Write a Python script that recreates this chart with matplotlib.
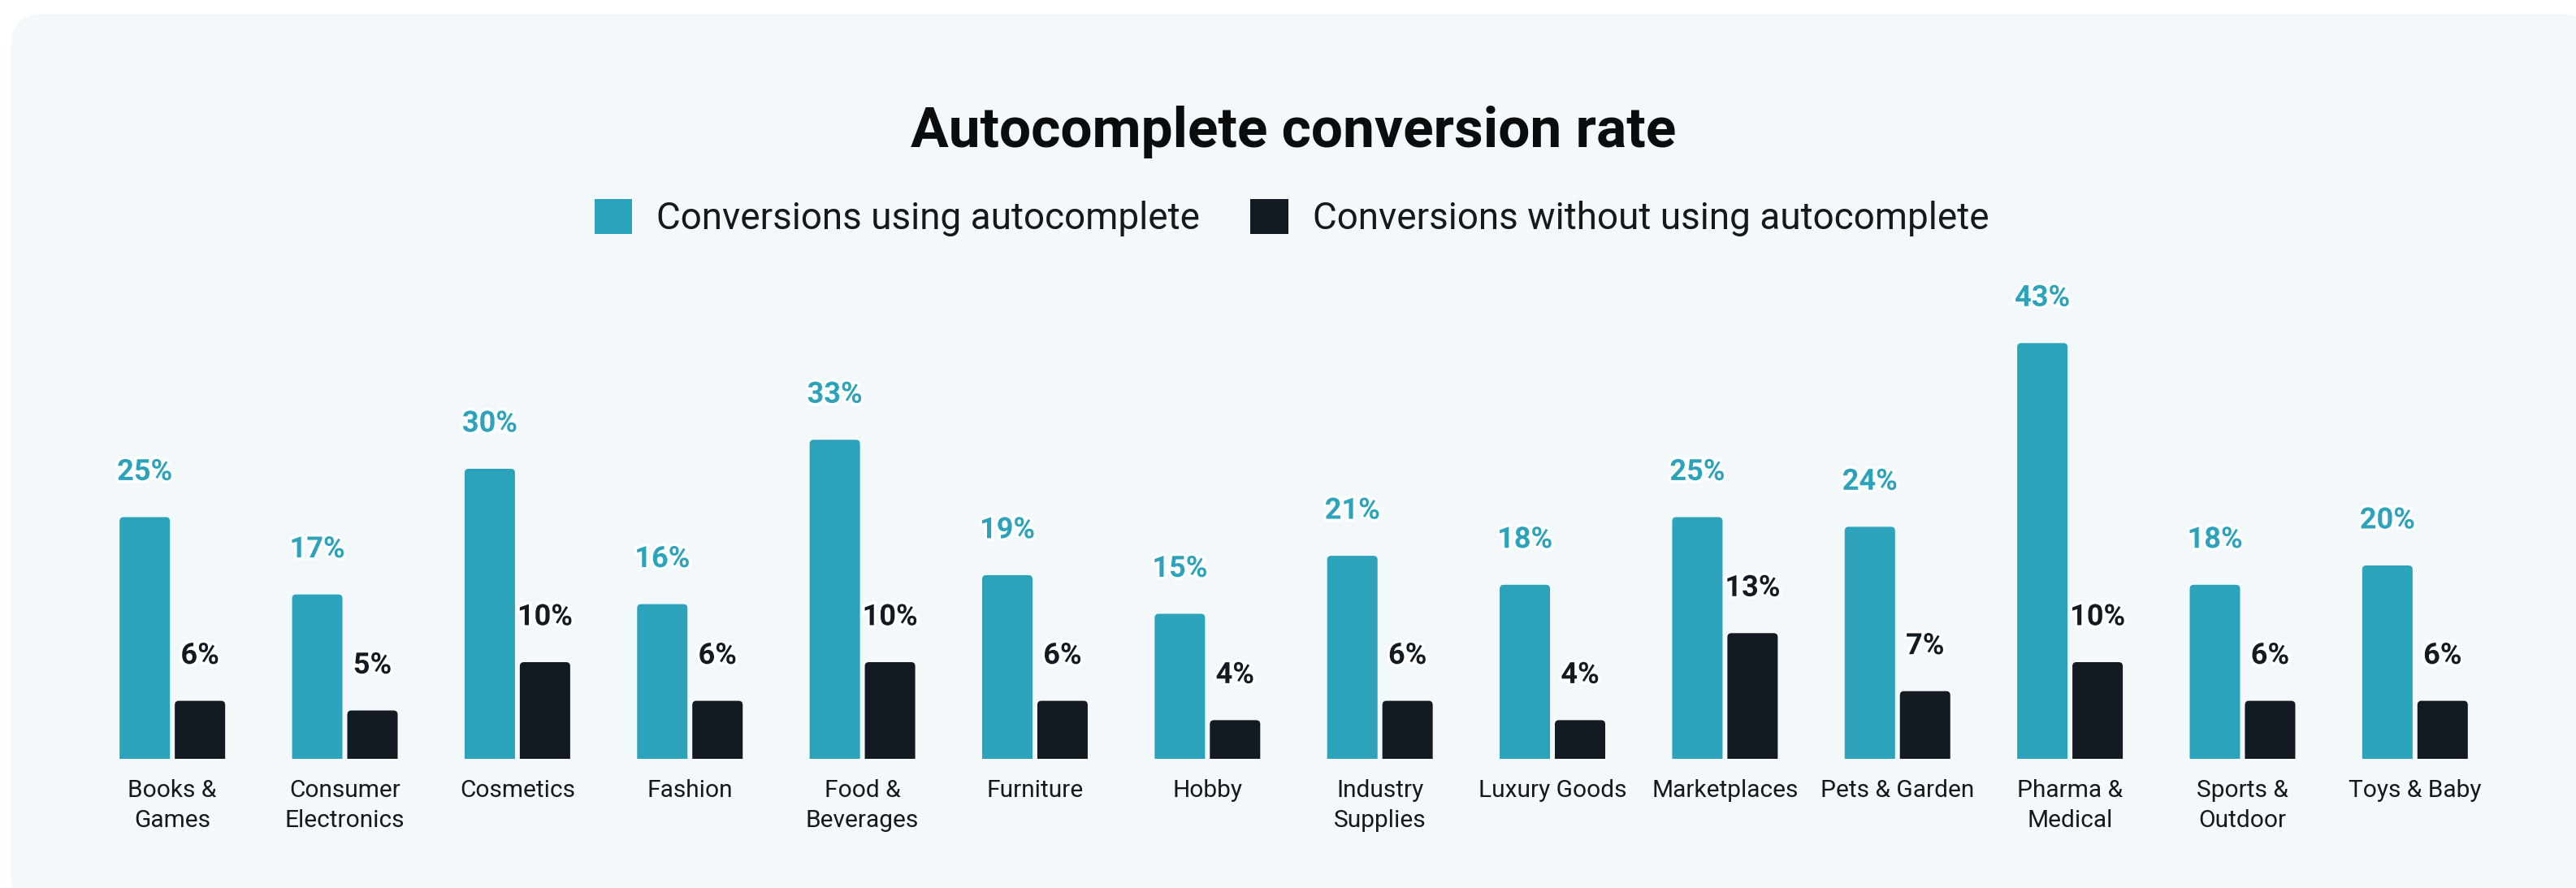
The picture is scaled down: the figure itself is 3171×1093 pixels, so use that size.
import matplotlib
matplotlib.use("Agg")
import matplotlib.pyplot as plt
from matplotlib.patches import FancyBboxPatch
from matplotlib.transforms import IdentityTransform
import matplotlib.patheffects as pe
import numpy as np

# ---------------- data ----------------
categories = ["Books &\nGames", "Consumer\nElectronics", "Cosmetics", "Fashion",
              "Food &\nBeverages", "Furniture", "Hobby", "Industry\nSupplies",
              "Luxury Goods", "Marketplaces", "Pets & Garden", "Pharma &\nMedical",
              "Sports &\nOutdoor", "Toys & Baby"]
with_autocomplete = [25, 17, 30, 16, 33, 19, 15, 21, 18, 25, 24, 43, 18, 20]
without_autocomplete = [6, 5, 10, 6, 10, 6, 4, 6, 4, 13, 7, 10, 6, 6]
series_names = ["Conversions using autocomplete",
                "Conversions without using autocomplete"]
title = "Autocomplete conversion rate"

# ---------------- style ----------------
TEAL = "#2CA3BA"
DARK = "#131A22"
BG = "#F3F8FB"
TEXT = "#15191F"
plt.rcParams['font.family'] = ['Roboto', 'DejaVu Sans']

W, H = 3171, 1093
fig = plt.figure(figsize=(W / 100, H / 100), dpi=100)
fig.patch.set_facecolor("white")

# rounded background panel (pixel coordinates)
panel = FancyBboxPatch((14, -30), W + 20 - 14, H + 13,
                       boxstyle="round,pad=0,rounding_size=40",
                       transform=IdentityTransform(), facecolor=BG,
                       edgecolor="none", zorder=-10)
fig.add_artist(panel)

ax_left, ax_right = 106, 3079
ax_bottom_px, ax_top_px = 934, 339
ax = fig.add_axes([ax_left / W, (H - ax_bottom_px) / H,
                   (ax_right - ax_left) / W, (ax_bottom_px - ax_top_px) / H])
ax.patch.set_alpha(0)

n = len(categories)
x = np.arange(n)
bw = 0.292
off = 0.16
ymax = 50
ax.set_xlim(-0.5, n - 0.5)
ax.set_ylim(0, ymax)

b1 = ax.bar(x - off, with_autocomplete, bw, color=TEAL, label=series_names[0])
b2 = ax.bar(x + off, without_autocomplete, bw, color=DARK, label=series_names[1])

# rounded top corners
px_per_x = (ax_right - ax_left) / n
px_per_y = (ax_bottom_px - ax_top_px) / ymax
r_px = 5
rx = r_px / px_per_x
aspect = (r_px / px_per_y) / rx
for cont in (b1, b2):
    for rect in cont:
        x0 = rect.get_x()
        ww = rect.get_width()
        hh = rect.get_height()
        p = FancyBboxPatch((x0, -1), ww, hh + 1,
                           boxstyle=f"round,pad=0,rounding_size={rx}",
                           mutation_aspect=aspect,
                           facecolor=rect.get_facecolor(), edgecolor="none")
        ax.add_patch(p)
        rect.remove()

# value labels
for cont, vals, col in ((b1, with_autocomplete, TEAL), (b2, without_autocomplete, DARK)):
    for rect, v in zip(cont, vals):
        ax.annotate(f"{v}%", xy=(rect.get_x() + rect.get_width() / 2, v),
                    xytext=(0, 40), textcoords="offset points",
                    ha="center", va="center", fontsize=26, fontweight="bold",
                    color=col, annotation_clip=False,
                    path_effects=[pe.withStroke(linewidth=5, foreground="white")])

ax.set_xticks(x, categories, fontsize=21.5, color=TEXT, linespacing=1.42)
ax.tick_params(axis="x", length=0, pad=18)
ax.set_yticks([])
for s in ax.spines.values():
    s.set_visible(False)

fig.text(1592 / W, 1 - 181 / H, title, ha="center", va="baseline",
         fontsize=50, fontweight="bold", color="#0B0C0E")

fig.legend(handles=[b1, b2], labels=series_names, loc="center",
           bbox_to_anchor=(1590 / W, 1 - 268 / H), ncol=2, frameon=False,
           fontsize=33, handlelength=1.02, handleheight=1.05,
           handletextpad=0.65, columnspacing=1.35, labelcolor=TEXT)

fig.savefig("out.png", dpi=100, facecolor="white")
